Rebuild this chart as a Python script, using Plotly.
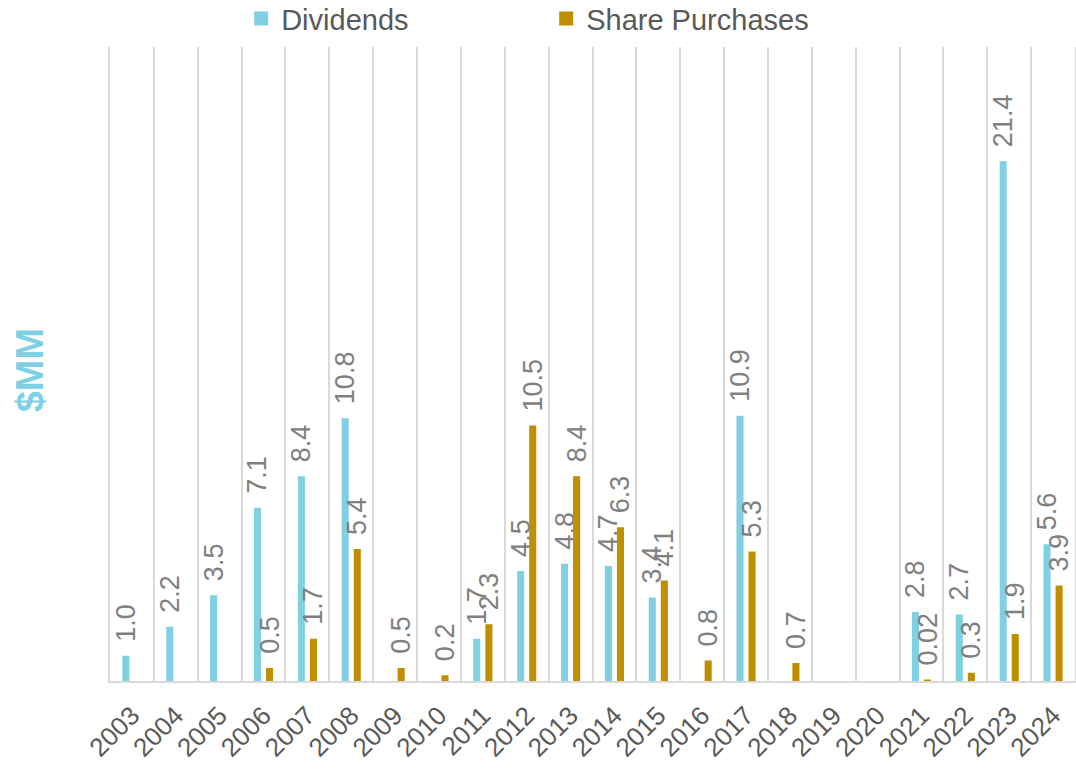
import plotly.graph_objects as go

years = list(range(2003, 2025))
dividends = [1.0, 2.2, 3.5, 7.1, 8.4, 10.8, None, None, 1.7, 4.5, 4.8, 4.7, 3.4, None,
             10.9, None, None, None, 2.8, 2.7, 21.4, 5.6]
share_purchases = [None, None, None, 0.5, 1.7, 5.4, 0.5, 0.2, 2.3, 10.5, 8.4, 6.3, 4.1, 0.8,
                   5.3, 0.7, None, None, 0.02, 0.3, 1.9, 3.9]


def fmt(v):
    if v is None:
        return ""
    s = f"{v:.1f}" if round(v, 1) == v else f"{v:g}"
    return "\u00a0\u00a0" + s


FONT = "Liberation Sans Narrow, Liberation Sans, Arial, sans-serif"
label_font = dict(family=FONT, size=27, color="#808080")
DIV_C = "#80d0e4"
SHR_C = "#bf8f00"

fig = go.Figure()
fig.add_trace(go.Bar(
    x=years, y=dividends, name="Dividends",
    marker=dict(color=DIV_C, line=dict(width=2, color=DIV_C)),
    text=[fmt(v) for v in dividends], textposition="outside", textangle=-90,
    textfont=label_font, cliponaxis=False, constraintext="none",
))
fig.add_trace(go.Bar(
    x=years, y=share_purchases, name="Share Purchases",
    marker=dict(color=SHR_C, line=dict(width=2, color=SHR_C)),
    text=[fmt(v) for v in share_purchases], textposition="outside", textangle=-90,
    textfont=label_font, cliponaxis=False, constraintext="none",
))

fig.update_layout(
    width=1076, height=772,
    margin=dict(l=110, r=1, t=47, b=91, autoexpand=False),
    paper_bgcolor="white", plot_bgcolor="white",
    barmode="group", bargap=0.45, bargroupgap=0.58,
    font=dict(family=FONT, color="#595959"),
    showlegend=True,
    legend=dict(orientation="h", x=0.452, xanchor="center", y=1.085, yanchor="top",
                yref="paper", font=dict(size=29, color="#595959"),
                entrywidth=260, entrywidthmode="pixels", itemwidth=30),
    xaxis=dict(
        range=[2002.5, 2024.5], tickmode="array", tickvals=years,
        ticktext=[str(y) for y in years], tickangle=-45,
        tickfont=dict(size=26, color="#595959"), ticklabelstandoff=7,
        showgrid=False, ticks="", showline=True, linecolor="#d9d9d9", linewidth=2,
        minor=dict(tick0=2002.5, dtick=1, showgrid=True, gridcolor="#d9d9d9", gridwidth=2, ticks=""),
        zeroline=False, automargin=False,
    ),
    yaxis=dict(
        range=[0, 26.15], showticklabels=False, showgrid=False, zeroline=False, ticks="",
        showline=True, mirror=True, linecolor="#d9d9d9", linewidth=2, automargin=False,
    ),
    annotations=[dict(
        text="<b>$MM</b>", xref="paper", yref="paper", x=-(110 - 30) / 965, y=0.49,
        xanchor="center", yanchor="middle", textangle=-90, showarrow=False,
        font=dict(family=FONT, size=38, color=DIV_C),
    )],
)

fig.write_html("out.html", config={"displayModeBar": False},
               post_script="document.body.style.margin='0';")
